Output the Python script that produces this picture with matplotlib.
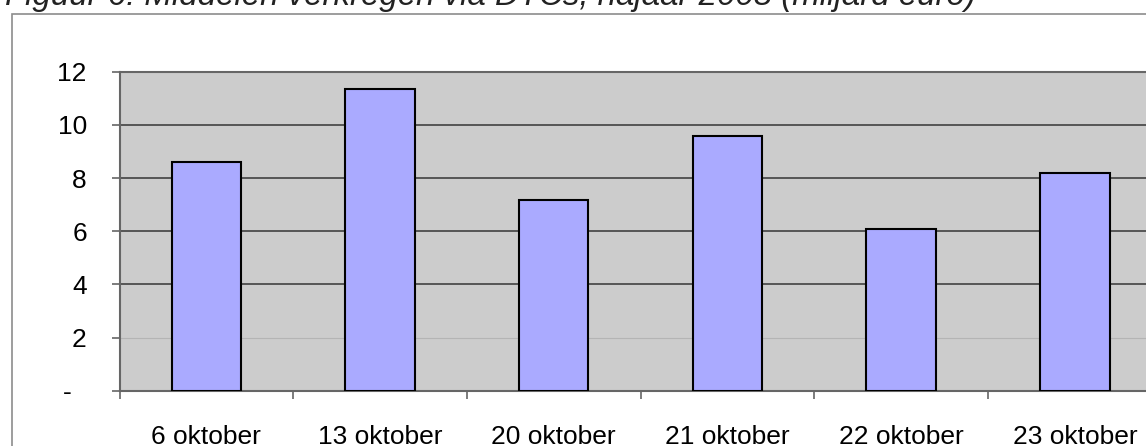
import matplotlib
matplotlib.use('Agg')
import matplotlib.pyplot as plt
from matplotlib.patches import Rectangle

categories = ['6 oktober', '13 oktober', '20 oktober', '21 oktober', '22 oktober', '23 oktober']
values = [8.62, 11.35, 7.17, 9.57, 6.07, 8.18]
yticks = [0, 2, 4, 6, 8, 10, 12]
ytick_labels = ['-  ', '2', '4', '6', '8', '10', '12']
title = 'Figuur 6: Middelen verkregen via DTCs, najaar 2008 (miljard euro)'

plt.rcParams['font.family'] = ['Liberation Sans', 'DejaVu Sans']

W, H = 1146, 446
fig = plt.figure(figsize=(W / 100, H / 100), dpi=100)

# outer chart border (runs off the right and bottom edge)
fig.patches.append(Rectangle((11.5 / W, -0.1), 2.0, 1 - 13.5 / H + 0.1,
                             transform=fig.transFigure, fill=False,
                             edgecolor='#8c8c8c', linewidth=1.2))

# title, mostly cut off at the top like in the source
fig.text(5 / W, 1 - 4.5 / H, title, fontsize=23.8, style='italic',
         ha='left', va='baseline', color='#222222')

left, right = 119.5, 1161.7
top, bottom = 71.7, 390.7
ax = fig.add_axes([left / W, 1 - bottom / H, (right - left) / W, (bottom - top) / H])
ax.set_facecolor('#cccccc')

x = list(range(len(categories)))
ax.bar(x, values, width=0.4, color='#aaaaff', edgecolor='black', linewidth=1.5, zorder=3)

for v in yticks[1:-1]:
    if v == 2:
        ax.axhline(v, color='#b4b4b4', linewidth=0.8, zorder=1)
    else:
        ax.axhline(v, color='#555555', linewidth=1.4, zorder=1)

ax.set_xlim(-0.5, len(categories) - 0.5)
ax.set_ylim(0, 12)
ax.set_yticks(yticks)
ax.set_yticklabels(ytick_labels, fontsize=19)
ax.set_xticks([i - 0.5 for i in range(len(categories) + 1)])
ax.set_xticklabels([])
ax.set_xticks(x, minor=True)
ax.set_xticklabels(categories, minor=True, fontsize=19)
ax.tick_params(axis='x', which='minor', length=0, pad=25)
ax.tick_params(axis='x', which='major', length=6, width=1.2, color='#666666')
ax.tick_params(axis='y', length=6, width=1.2, color='#666666', pad=17.5)

for s in ['left', 'bottom', 'top']:
    ax.spines[s].set_color('#666666')
    ax.spines[s].set_linewidth(1.5)
ax.spines['right'].set_visible(False)

fig.savefig('out.png', dpi=100)
